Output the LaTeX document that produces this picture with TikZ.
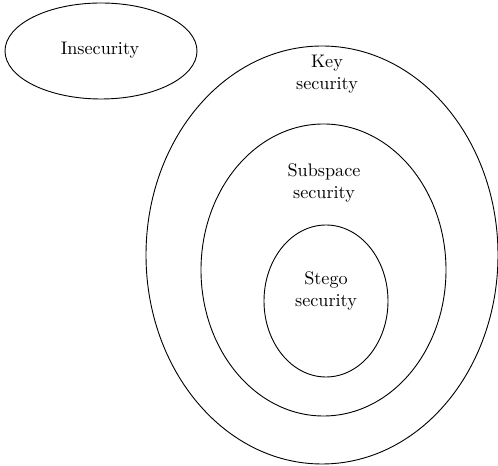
\documentclass[tikz,border=0pt]{standalone}
\usetikzlibrary{shapes.geometric}
\tikzset{
  region/.style={ellipse, draw=black, line width=0.5pt, inner sep=0pt, outer sep=0pt},
  caption/.style={align=center, text centered, inner sep=0pt}
}
\begin{document}
\begin{tikzpicture}[x=0.55pt, y=-0.55pt]
        \useasboundingbox (0,0) rectangle (498,466);

        % Regiones
        \node (insec) [region, minimum width=105.6pt, minimum height=52.8pt] at (101,51) {};
        \node (key) [region, minimum width=193.6pt, minimum height=229.9pt] at (322,255) {};
        \node (subspace) [region, minimum width=134.75pt, minimum height=160.6pt] at (323.5,270) {};
        \node (stego) [region, minimum width=68.2pt, minimum height=83.6pt] at (326,301) {};

        % Textos
        \node (insectext) [caption] at (100,50) {Insecurity};
        \node (keytext) [caption] at (327,74) {Key\\security};
        \node (subtext) [caption] at (324,183) {Subspace\\security};
        \node (stegotext) [caption] at (326,291) {Stego\\security};
\end{tikzpicture}
\end{document}
